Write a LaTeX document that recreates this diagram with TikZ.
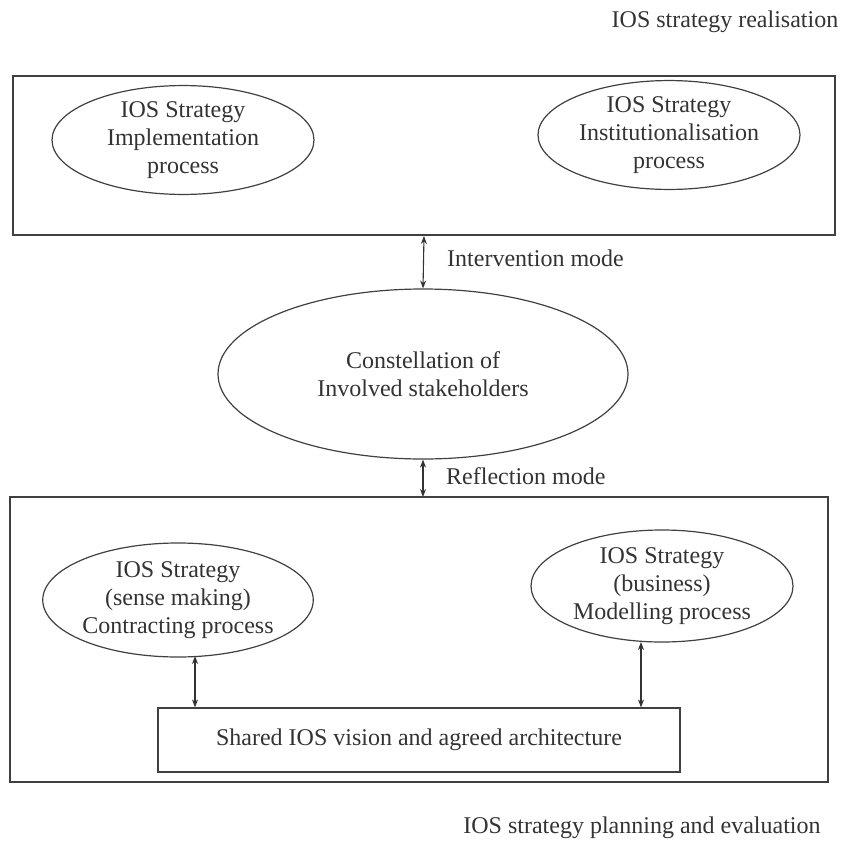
\documentclass[tikz,border=0pt]{standalone}
\usepackage{fontspec}
\setmainfont{Liberation Serif}
\usetikzlibrary{shapes.geometric,arrows.meta}
\begin{document}
\begin{tikzpicture}[x=1pt,y=-1pt,
  every node/.style={font=\fontsize{24}{28}\selectfont, text=black!80},
  proc/.style={draw=black!75, line width=1.2pt, ellipse, align=center, inner sep=0pt},
  frame/.style={draw=black!75, line width=1.2pt},
  lbl/.style={anchor=west, inner sep=0pt},
  dbl/.style={{Stealth[length=8pt,width=6pt]}-{Stealth[length=8pt,width=6pt]}, line width=1.1pt, black!80}]
\useasboundingbox (0,0) rectangle (841,841);
% top frame
\draw[frame] (13,76) rectangle (835,235);
\node (realis) at (725,22) {IOS strategy realisation};
\node[proc, minimum width=262pt, minimum height=108pt] (impl) at (183,140) {IOS Strategy\\Implementation\\process};
\node[proc, minimum width=262pt, minimum height=106pt] (inst) at (669,135) {IOS Strategy\\Institutionalisation\\process};
% middle
\coordinate (topb) at (424,236);
\node[proc, minimum width=410pt, minimum height=170pt] (const) at (423,374) {Constellation of\\Involved stakeholders};
\draw[dbl] (topb) -- (const.north);
\node[lbl] (inter) at (447,258) {Intervention mode};
\coordinate (botb) at (423,497);
\draw[dbl] (const.south) -- (botb);
\node[lbl] (refl) at (446,476) {Reflection mode};
% bottom frame
\draw[frame] (10,497) rectangle (828,782);
\node[proc, minimum width=263pt, minimum height=114pt] (contr) at (178,600) {IOS Strategy\\(sense making)\\Contracting process};
\node[proc, minimum width=262pt, minimum height=112pt] (model) at (662,586) {IOS Strategy\\(business)\\Modelling process};
\node[draw=black!75, line width=1.2pt, minimum width=522pt, minimum height=64pt, inner sep=0pt] (shared) at (419,740) {Shared IOS vision and agreed architecture};
\coordinate (lx) at (195,656);
\coordinate (rx) at (641,642);
\draw[dbl] (lx) -- (shared.north -| lx);
\draw[dbl] (rx) -- (shared.north -| rx);
\node (plan) at (642,828) {IOS strategy planning and evaluation};
\end{tikzpicture}
\end{document}
